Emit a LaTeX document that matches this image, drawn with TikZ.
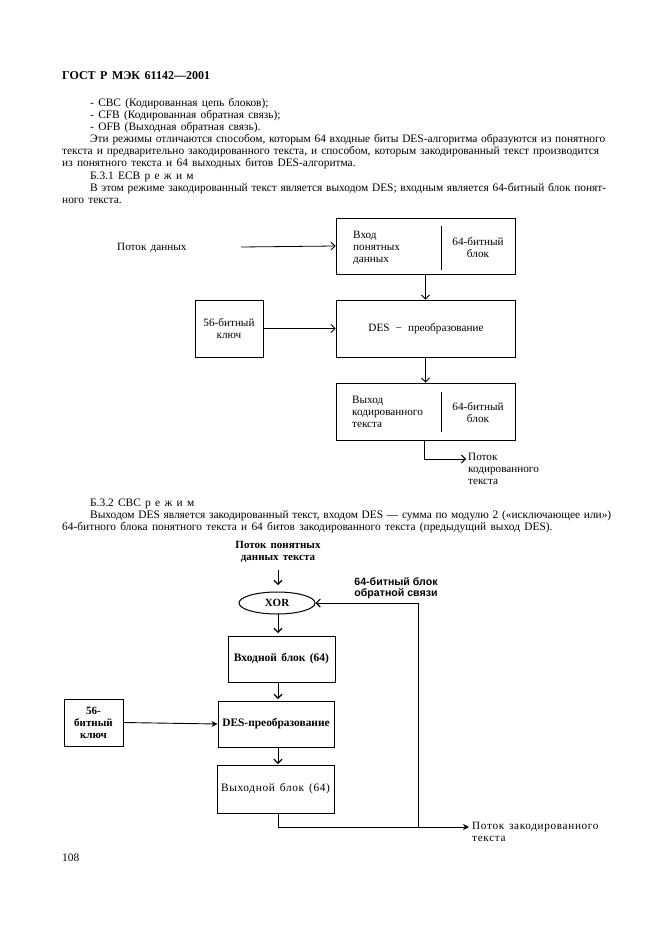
\documentclass[tikz,border=0pt]{standalone}
\usepackage{fontspec}
\setmainfont[WordSpace={1.5,1.5,0.6}]{Liberation Serif}
\newfontfamily\labsans{Liberation Sans}
\newfontfamily\widefont[LetterSpace=6,WordSpace=1.4]{Liberation Serif}
\usetikzlibrary{shapes.geometric,arrows.meta}
\begin{document}
\begin{tikzpicture}[x=1pt,y=-1pt,
  bodytext/.style={anchor=base west, inner sep=0, font=\fontsize{11.4}{12}\selectfont},
  lbl/.style={inner sep=0, font=\fontsize{11.2}{12}\selectfont, align=center},
  boxa/.style={draw, line width=0.9pt, inner sep=0},
  boxb/.style={draw, line width=1pt, inner sep=0, font=\fontsize{11.5}{12}\selectfont\bfseries, align=center},
  arra/.style={-{Straight Barb[length=4pt,width=8pt,line width=0.9pt]}, line width=0.8pt},
  arrb/.style={-{Straight Barb[length=4pt,width=8pt,line width=1.1pt]}, line width=1pt},
  arrc/.style={-{Stealth[length=6pt,width=6pt]}, line width=0.9pt},
  inline/.style={line width=1pt}
]
\path[fill=white] (0,0) rectangle (661,936);

% ---------- text of the page ----------
\node[anchor=base west, inner sep=0, font=\fontsize{12}{14}\selectfont\bfseries] (hdr) at (62,80) {ГОСТ Р МЭК 61142—2001};
\node[bodytext] (t1) at (90,107) {- CBC (Кодированная цепь блоков);};
\node[bodytext] (t2) at (90,119) {- CFB (Кодированная обратная связь);};
\node[bodytext] (t3) at (90,131) {- OFB (Выходная обратная связь).};
\node[bodytext] (t4) at (90,143) {\hbox to 509pt{Эти режимы отличаются способом, которым 64 входные биты DES-алгоритма образуются из понятного}};
\node[bodytext] (t5) at (62,155) {\hbox to 537pt{текста и предварительно закодированного текста, и способом, которым закодированный текст производится}};
\node[bodytext] (t6) at (62,167) {из понятного текста и 64 выходных битов DES-алгоритма.};
\node[bodytext] (t7) at (90,179) {Б.3.1 ECB р е ж и м};
\node[bodytext] (t8) at (90,191) {\hbox to 509pt{В этом режиме закодированный текст является выходом DES; входным является 64-битный блок понят-}};
\node[bodytext] (t9) at (62,203) {ного текста.};

\node[bodytext] (s1) at (90,506) {Б.3.2 CBC р е ж и м};
\node[bodytext] (s2) at (90,518) {\hbox to 509pt{Выходом DES является закодированный текст, входом DES — сумма по модулю 2 («исключающее или»)}};
\node[bodytext] (s3) at (62,530) {64-битного блока понятного текста и 64 битов закодированного текста (предыдущий выход DES).};

\node[bodytext] (pg) at (62,861) {108};

% ---------- ECB diagram ----------
\node[lbl, anchor=base west] (pd) at (117,250) {Поток данных};
\coordinate (pdarr) at (241,247);
\node[boxa, minimum width=179pt, minimum height=56pt] (b1) at (425.5,246) {};
\draw[inline] (441,226) -- (441,270);
\node[lbl, align=left, anchor=west] (b1l) at (353,248) {Вход\\понятных\\данных};
\node[lbl] (b1r) at (478,248) {64-битный\\блок};

\node[boxa, minimum width=179pt, minimum height=57pt] (b2) at (425.5,328.5) {};
\node[lbl] (b2t) at (426,329) {DES \,−\, преобразование};

\node[boxa, minimum width=68pt, minimum height=57pt] (k1) at (229,328.5) {};
\node[lbl] (k1t) at (229,329) {56-битный\\ключ};

\node[boxa, minimum width=179pt, minimum height=57pt] (b3) at (425.5,411.5) {};
\draw[inline] (441,392) -- (441,432);
\node[lbl, align=left, anchor=west] (b3l) at (352,412) {Выход\\кодированного\\текста};
\node[lbl] (b3r) at (478,413) {64-битный\\блок};

\node[lbl, align=left, anchor=north west] (ot) at (468,453) {Поток\\кодированного\\текста};
\coordinate (otarr) at (466,459);

\draw[arra] (pdarr) -- (b1.west);
\draw[arra] (b1.south) -- (b2.north);
\draw[arra] (k1.east) -- (b2.west);
\draw[arra] (b2.south) -- (b3.north);
\draw[arra] (424,440) |- (otarr);

% ---------- CBC diagram ----------
\node[lbl, font=\fontsize{11}{11.5}\selectfont\bfseries] (ppt) at (278,552) {Поток понятных\\данных текста};
\node[draw, ellipse, line width=1pt, minimum width=76pt, minimum height=22pt, inner sep=0, font=\fontsize{11}{12}\selectfont\bfseries] (xor) at (277,603) {XOR};
\node[boxb, minimum width=107pt, minimum height=46pt] (bin) at (281.5,659) {Входной блок (64)};
\node[boxb, minimum width=116pt, minimum height=46pt, font=\fontsize{11.4}{12}\selectfont\bfseries] (des) at (276,724) {DES-преобразование};
\node[boxb, minimum width=59pt, minimum height=47pt, font=\fontsize{11}{12}\selectfont\bfseries] (key) at (93.5,722.5) {56-\\битный\\ключ};
\node[draw, line width=1pt, inner sep=0, minimum width=117pt, minimum height=48pt, font=\fontsize{11.3}{12}\widefont] (bout) at (275.5,789) {Выходной блок (64)};
\node[lbl, font=\fontsize{10.6}{11.5}\labsans\bfseries] (fb) at (396,588) {64-битный блок\\обратной связи};
\node[lbl, align=left, anchor=north west, font=\fontsize{11.2}{12}\widefont] (zt) at (472,822) {Поток закодированного\\текста};

\coordinate (j) at (418,827);
\coordinate (zarr) at (469,827);

\draw[arrb] (278,570) -- (278,585);
\draw[arrb] (278,614) -- (278,633);
\draw[arrb] (278,682) -- (278,699);
\draw[arrc] (key.east) -- (des.west);
\draw[arrb] (278,747) -- (278,764);
\draw[line width=1pt] (278,813) |- (j);
\draw[arrc] (j) -- (zarr);
\draw[arrb] (j) |- (xor.east);
\end{tikzpicture}
\end{document}
